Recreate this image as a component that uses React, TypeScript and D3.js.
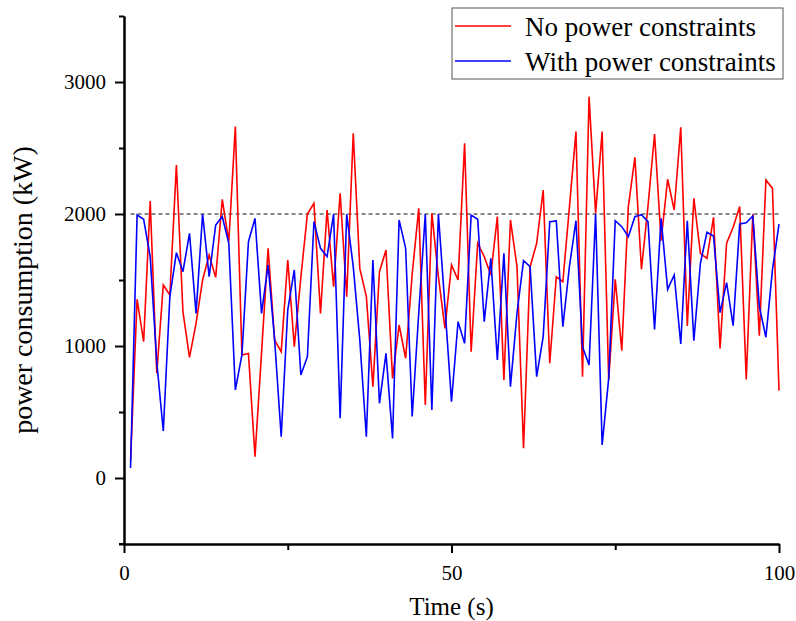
import React, { useRef, useEffect } from 'react';
import * as d3 from 'd3';

// time steps (s)
const timeSteps = d3.range(1, 101);

// power consumption (kW)
const noConstraint = [
  130, 1354, 1033, 2098, 793, 1462, 1386, 2371, 1260, 914,
  1172, 1500, 1689, 1520, 2111, 1790, 2662, 932, 944, 162,
  950, 1740, 1045, 957, 1652, 995, 1520, 2000, 2081, 1247,
  2030, 1449, 2157, 1374, 2611, 1588, 1374, 692, 1563, 1727,
  755, 1159, 907, 1545, 2043, 553, 2005, 1525, 1134, 1614,
  1500, 2535, 957, 1778, 1677, 1538, 1980, 742, 1955, 1601,
  225, 1601, 1778, 2182, 869, 1525, 1487, 2050, 2624, 768,
  2889, 2005, 2624, 743, 1505, 965, 2056, 2429, 1581, 2060,
  2606, 1798, 2263, 2030, 2657, 1152, 2119, 1702, 1664, 1975,
  982, 1778, 1900, 2056, 747, 2000, 1078, 2258, 2194, 662,
];

const withConstraint = [
  76, 1992, 1960, 1677, 880, 356, 1374, 1707, 1563, 1854,
  1247, 2000, 1525, 1917, 1980, 1778, 667, 932, 1790, 1967,
  1247, 1614, 1045, 313, 1273, 1576, 780, 919, 1942, 1740,
  1677, 2000, 452, 2000, 1601, 1045, 313, 1652, 566, 944,
  300, 1955, 1740, 466, 1250, 2000, 515, 2000, 1300, 578,
  1184, 1020, 1992, 1960, 1184, 1664, 894, 1702, 692, 1250,
  1646, 1601, 768, 1071, 1942, 1947, 1146, 1601, 1949, 995,
  856, 2000, 250, 755, 1949, 1904, 1828, 1980, 1995, 1942,
  1126, 1967, 1429, 1538, 1015, 1949, 1040, 1626, 1861, 1833,
  1253, 1480, 1154, 1924, 1934, 1985, 1298, 1066, 1576, 1924,
];

const seriesNames = ['No power constraints', 'With power constraints'];
const seriesColors = ['#ff0000', '#0000ff'];
const xMajorTicks = [0, 50, 100];
const xMinorTicks = [25, 75];
const yMajorTicks = [0, 1000, 2000, 3000];
const yMinorTicks = [-500, 500, 1500, 2500, 3500];
const powerLimit = 2000;

const FONT = '"Liberation Serif", "Times New Roman", serif';

const PowerChart = () => {
  const svgRef = useRef(null);
  const width = 796;
  const height = 621;

  useEffect(() => {
    const svg = d3.select(svgRef.current);
    svg.selectAll('*').remove();

    const x = d3.scaleLinear().domain([0, 100]).range([124, 779]);
    const y = d3.scaleLinear().domain([-500, 3500]).range([544, 16]);
    const fmt = d3.format('d');

    // minor ticks first, then the major axis on top
    const yMinor = svg.append('g')
      .attr('transform', `translate(${x(0)},0)`)
      .call(d3.axisLeft(y).tickValues(yMinorTicks).tickSize(5).tickSizeOuter(0).tickFormat(() => ''));
    const xMinor = svg.append('g')
      .attr('transform', `translate(0,${y(-500)})`)
      .call(d3.axisBottom(x).tickValues(xMinorTicks).tickSize(6).tickSizeOuter(0).tickFormat(() => ''));

    const yAxis = svg.append('g')
      .attr('transform', `translate(${x(0)},0)`)
      .call(d3.axisLeft(y).tickValues(yMajorTicks).tickSize(9).tickSizeOuter(0).tickPadding(9).tickFormat(fmt));
    const xAxis = svg.append('g')
      .attr('transform', `translate(0,${y(-500)})`)
      .call(d3.axisBottom(x).tickValues(xMajorTicks).tickSize(9).tickSizeOuter(0).tickPadding(12).tickFormat(fmt));

    [yMinor, xMinor, yAxis, xAxis].forEach(g => {
      g.selectAll('path, line').attr('stroke', '#000').attr('stroke-width', 2);
      g.selectAll('text')
        .attr('fill', '#000')
        .style('font-family', FONT)
        .style('font-size', '21px');
    });
    // the x axis line also runs a bit left, like the -500 tick
    svg.append('line')
      .attr('x1', x(0) - 5).attr('x2', x(0))
      .attr('y1', y(-500)).attr('y2', y(-500))
      .attr('stroke', '#000').attr('stroke-width', 2);

    // power limit
    svg.append('line')
      .attr('x1', x(1)).attr('x2', x(100))
      .attr('y1', y(powerLimit)).attr('y2', y(powerLimit))
      .attr('stroke', '#111')
      .attr('stroke-width', 1)
      .attr('stroke-dasharray', '4,3');

    const line = d3.line()
      .x((d, i) => x(timeSteps[i]))
      .y(d => y(d));

    [noConstraint, withConstraint].forEach((vals, i) => {
      svg.append('path')
        .datum(vals)
        .attr('d', line)
        .attr('fill', 'none')
        .attr('stroke', seriesColors[i])
        .attr('stroke-width', 1.6)
        .attr('stroke-linejoin', 'miter');
    });

    // axis titles
    svg.append('text')
      .attr('x', x(50))
      .attr('y', 615)
      .attr('text-anchor', 'middle')
      .style('font-family', FONT)
      .style('font-size', '25px')
      .text('Time (s)');

    svg.append('text')
      .attr('transform', `translate(32,${y(1500) + 10}) rotate(-90)`)
      .attr('text-anchor', 'middle')
      .style('font-family', FONT)
      .style('font-size', '28px')
      .text('power consumption (kW)');

    // legend
    const legend = svg.append('g');
    legend.append('rect')
      .attr('x', 452).attr('y', 8)
      .attr('width', 331).attr('height', 71)
      .attr('fill', '#fff')
      .attr('stroke', '#555')
      .attr('stroke-width', 1);

    seriesNames.forEach((name, i) => {
      const ly = 26 + i * 35;
      legend.append('line')
        .attr('x1', 455).attr('x2', 511)
        .attr('y1', ly).attr('y2', ly)
        .attr('stroke', seriesColors[i])
        .attr('stroke-width', 1.6);
      legend.append('text')
        .attr('x', 525)
        .attr('y', ly + 10)
        .style('font-family', FONT)
        .style('font-size', '27px')
        .text(name);
    });
  }, []);

  return (
    <svg
      ref={svgRef}
      width={width}
      height={height}
      style={{ position: 'absolute', left: 0, top: 0, background: '#fff' }}
    />
  );
};

export default function App() {
  return <PowerChart />;
}
